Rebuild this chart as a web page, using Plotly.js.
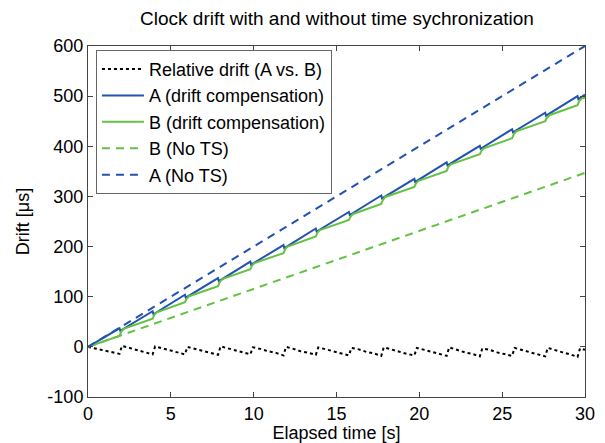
<!DOCTYPE html>
<html>
<head>
<meta charset="utf-8">
<script src="https://cdn.plot.ly/plotly-3.0.1.min.js"></script>
<style>
  html, body { margin: 0; padding: 0; background: #fff; }
  #chart { width: 605px; height: 443px; }
</style>
</head>
<body>
<div id="chart"></div>
<script>
// Relative drift between the two clocks (A vs. B), in microseconds
const relTime = [0, 0.5, 1.0, 1.5, 1.9,
  2.05, 2.5, 3.0, 3.5, 3.9,
  4.05, 4.5, 5.0, 5.45, 5.85,
  6.0, 6.45, 6.95, 7.4, 7.85,
  8.0, 8.45, 8.9, 9.4, 9.8,
  9.95, 10.4, 10.9, 11.35, 11.8,
  11.95, 12.4, 12.85, 13.3, 13.75,
  13.9, 14.35, 14.85, 15.3, 15.75,
  15.9, 16.35, 16.8, 17.25, 17.7,
  17.85, 18.3, 18.8, 19.25, 19.7,
  19.85, 20.3, 20.75, 21.2, 21.65,
  21.8, 22.25, 22.75, 23.2, 23.65,
  23.8, 24.25, 24.7, 25.15, 25.6,
  25.75, 26.2, 26.7, 27.15, 27.6,
  27.75, 28.2, 28.65, 29.1, 29.55,
  29.7, 30];
const relDrift = [0, -3.5, -8, -11, -14,
  2, -2, -7, -11, -15,
  1, -3, -8, -11, -15,
  0, -4, -8, -12, -16,
  1, -3, -8, -12, -15,
  -1, -4, -9, -12, -17,
  0, -4, -9, -12, -16,
  -1, -5, -9, -13, -17,
  -2, -5, -10, -13, -18,
  -1, -5, -10, -14, -17,
  -2, -6, -10, -14, -18,
  -1, -6, -11, -14, -19,
  -3, -6, -11, -15, -18,
  -2, -7, -11, -15, -19,
  -2, -7, -11, -15, -20,
  -3, -6];

// Clock A with drift compensation
const aTime = [0, 1.9, 1.95, 3.9, 3.95, 5.85, 5.9, 7.85, 7.9, 9.8, 9.85,
  11.8, 11.85, 13.75, 13.8, 15.75, 15.8, 17.7, 17.75, 19.7, 19.75,
  21.65, 21.7, 23.65, 23.7, 25.6, 25.65, 27.6, 27.65, 29.55, 29.6, 30];
const aComp = [0, 37, 32, 71, 65, 104, 98, 137, 131, 170, 164,
  203, 197, 236, 230, 269, 263, 302, 296, 335, 329,
  368, 362, 401, 395, 434, 428, 467, 461, 500, 494, 503];

// Clock B with drift compensation
const bTime = [0, 1.9, 2.0, 2.15, 3.9, 4.0, 4.15, 5.85, 5.95, 6.1,
  7.85, 7.95, 8.1, 9.8, 9.9, 10.05, 11.8, 11.9, 12.05,
  13.75, 13.85, 14.0, 15.75, 15.85, 16.0, 17.7, 17.8, 17.95,
  19.7, 19.8, 19.95, 21.65, 21.75, 21.9, 23.65, 23.75, 23.9,
  25.6, 25.7, 25.85, 27.6, 27.7, 27.85, 29.55, 29.65, 29.8, 30];
const bComp = [0, 22, 30, 36, 56, 64, 69, 89, 96, 101,
  121, 129, 135, 155, 162, 167, 187, 195, 200,
  220, 228, 233, 253, 260, 265, 285, 293, 299,
  319, 326, 331, 351, 359, 364, 384, 391, 396,
  416, 424, 430, 450, 457, 462, 482, 490, 495, 497];

// Free-running clocks, no time synchronization
const noTsTime = [0, 30];
const bNoTs = [0, 347];
const aNoTs = [0, 600];

// Axis ticks
const xTicks = [0, 5, 10, 15, 20, 25, 30];
const yTicks = [-100, 0, 100, 200, 300, 400, 500, 600];
const yTickText = ['-100', '0', '100', '200', '300', '400', '500', '600'];

const BLUE = '#2252b2';
const GREEN = '#64c142';
const FONT = 'Liberation Sans, Arial, Helvetica, sans-serif';

const traces = [
  { x: relTime, y: relDrift, name: 'Relative drift (A vs. B)', mode: 'lines',
    line: { color: '#000', width: 2, dash: 'dot' } },
  { x: aTime, y: aComp, name: 'A (drift compensation)', mode: 'lines',
    line: { color: BLUE, width: 2 } },
  { x: bTime, y: bComp, name: 'B (drift compensation)', mode: 'lines',
    line: { color: GREEN, width: 2 } },
  { x: noTsTime, y: bNoTs, name: 'B (No TS)', mode: 'lines',
    line: { color: GREEN, width: 2, dash: '8px,6px' } },
  { x: noTsTime, y: aNoTs, name: 'A (No TS)', mode: 'lines',
    line: { color: BLUE, width: 2, dash: '8px,6px' } }
];

const axisCommon = {
  showline: true, linecolor: '#444', linewidth: 1, mirror: 'allticks',
  ticks: 'inside', ticklen: 5, tickcolor: '#444', showgrid: false, zeroline: false,
  tickfont: { family: FONT, size: 18, color: '#000' }
};

const layout = {
  width: 605, height: 443,
  margin: { l: 88, r: 20, t: 46, b: 46 },
  paper_bgcolor: '#fff', plot_bgcolor: '#fff',
  font: { family: FONT, size: 18, color: '#000' },
  title: { text: 'Clock drift with and without time sychronization',
    font: { family: FONT, size: 19, color: '#000' }, x: 0.557, xanchor: 'center', y: 0.958, yanchor: 'middle' },
  xaxis: Object.assign({}, axisCommon, {
    range: [0, 30], tickvals: xTicks,
    title: { text: 'Elapsed time [s]', font: { family: FONT, size: 18 }, standoff: 2 }
  }),
  yaxis: Object.assign({}, axisCommon, {
    range: [-100, 600], tickvals: yTicks, ticktext: yTickText,
    title: { text: 'Drift [μs]', font: { family: FONT, size: 18 }, standoff: 13 }
  }),
  showlegend: true,
  legend: {
    x: 0.016, y: 0.989, xanchor: 'left', yanchor: 'top',
    bgcolor: '#fff', bordercolor: '#666', borderwidth: 1,
    font: { family: FONT, size: 18, color: '#000' },
    tracegroupgap: 0, itemwidth: 42
  }
};

Plotly.newPlot('chart', traces, layout, { displayModeBar: false, staticPlot: true });
</script>
</body>
</html>
